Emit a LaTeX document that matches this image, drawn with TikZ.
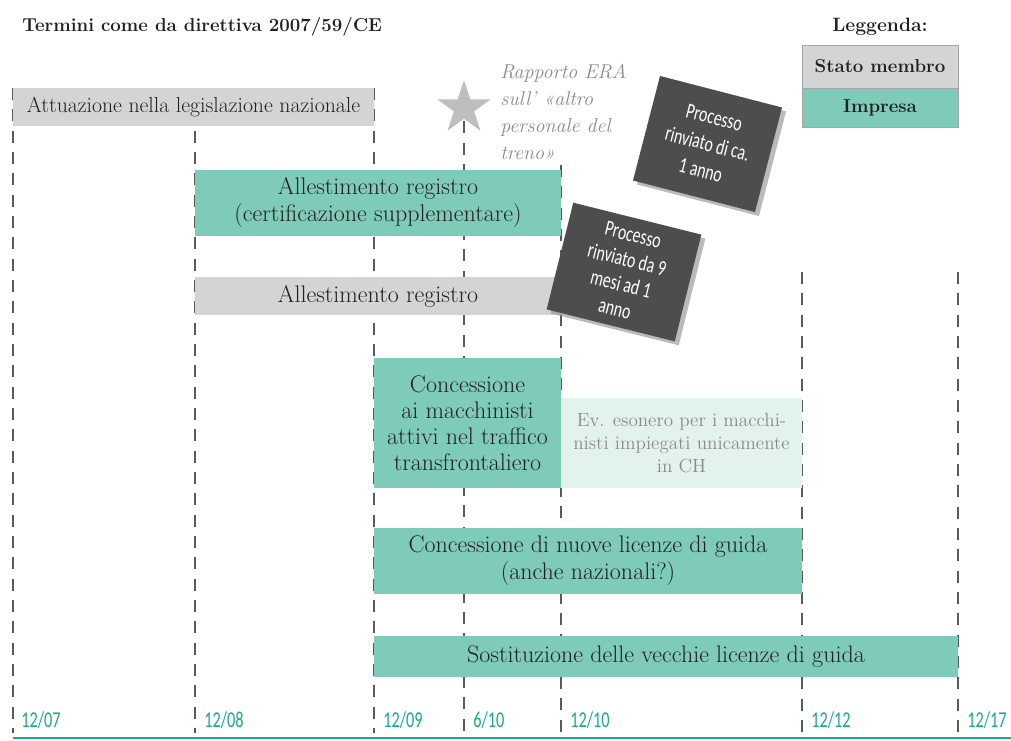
\documentclass[tikz,border=0pt]{standalone}
\usepackage{fontspec}
\newfontfamily\condfont[FakeStretch=0.72]{Carlito}
\usetikzlibrary{shapes.geometric,shadows}
\definecolor{tgreen}{HTML}{7ECBB9}
\definecolor{tgray}{HTML}{D3D4D6}
\definecolor{tlight}{HTML}{E2F2EC}
\definecolor{tdark}{HTML}{4D4D4F}
\definecolor{tlab}{HTML}{1AA98A}
\definecolor{tline}{HTML}{5A5A5A}
\definecolor{ttext}{HTML}{231F20}
\definecolor{tstar}{HTML}{BDBEC0}
\definecolor{tsoft}{HTML}{8A8A8C}
\begin{document}
\begin{tikzpicture}[x=0.75pt,y=-0.75pt,
  font=\fontsize{18}{20.25}\selectfont,
  bar/.style={inner sep=0pt, align=center, text=ttext},
  grn/.style={bar, fill=tgreen},
  gry/.style={bar, fill=tgray},
  tick/.style={draw=tline, line width=1pt, dash pattern=on 9pt off 7pt},
  darkbox/.style={fill=tdark, text=white, inner sep=0pt, align=center,
    drop shadow={shadow xshift=3pt, shadow yshift=-3pt, fill=black!45, opacity=0.6}},
  datelab/.style={anchor=west, text=tlab, inner sep=0pt, font=\condfont\fontsize{17}{18}\selectfont},
  legbox/.style={bar, draw=black!35, line width=0.6pt, font=\bfseries\fontsize{14}{16}\selectfont, minimum width=117pt}
]
\useasboundingbox (0,0) rectangle (1011,740);

% timeline dashed lines
\foreach \x/\y in {13/88, 195/88, 374/88, 464/100, 561/165, 802/272, 958/272}
  \draw[tick] (\x,\y) -- (\x,733);

% title and legend
\node[anchor=west, inner sep=0pt, font=\bfseries\fontsize{14}{16}\selectfont, text=ttext] (title) at (22,27) {Termini come da direttiva 2007/59/CE};
\node[inner sep=0pt, font=\bfseries\fontsize{14.5}{16}\selectfont, text=ttext] (leg) at (880,27) {Leggenda:};
\node[legbox, fill=tgray, minimum height=32.25pt] (stato) at (880,66.5) {Stato membro};
\node[legbox, fill=tgreen, minimum height=29.25pt] (impresa) at (880,107.5) {Impresa};

% bars
\node[gry, minimum width=270.75pt, minimum height=28.5pt, font=\fontsize{16.3}{19}\selectfont] (att) at (193.5,107) {Attuazione nella legislazione nazionale};
\node[grn, minimum width=274.5pt, minimum height=49.5pt] (reg1) at (378,203) {Allestimento registro\\(certificazione supplementare)};
\node[gry, minimum width=274.5pt, minimum height=28.5pt] (reg2) at (378,296) {Allestimento registro};
\node[grn, minimum width=140.25pt, minimum height=97.5pt, font=\fontsize{18}{19.5}\selectfont] (conc) at (467.5,423) {Concessione\\ai macchinisti\\attivi nel traffico\\transfrontaliero};
\node[bar, fill=tlight, text=tsoft, minimum width=180.75pt, minimum height=67.5pt, font=\fontsize{14.3}{17.25}\selectfont] (eson) at (681.5,443) {Ev. esonero per i macchi-\\nisti impiegati unicamente\\in CH};
\node[grn, minimum width=321pt, minimum height=49.5pt] (nuove) at (588,561) {Concessione di nuove licenze di guida\\(anche nazionali?)};
\node[grn, minimum width=438pt, minimum height=30.75pt] (sost) at (666,656.5) {Sostituzione delle vecchie licenze di guida};

% star and ERA note
\node[star, star points=5, star point ratio=2.618, fill=tstar, inner sep=0pt, minimum size=42pt] (star) at (464,108) {};
\node[anchor=north west, inner sep=0pt, align=left, text=tsoft, font=\itshape\fontsize{15}{20.25}\selectfont] (era) at (500,64) {Rapporto ERA\\sull' «altro\\personale del\\treno»};

% delay boxes
\node[darkbox, rotate=-14.5, minimum width=94.5pt, minimum height=81pt, font=\condfont\fontsize{16.5}{20.5}\selectfont] (del1) at (707.5,144) {Processo\\rinviato di ca.\\1 anno};
\node[darkbox, rotate=-14, minimum width=99pt, minimum height=82.5pt, font=\condfont\fontsize{16.5}{19}\selectfont] (del2) at (624,272) {Processo\\rinviato da 9\\mesi ad 1\\anno};

% date labels
\node[datelab] (d1) at (21,720) {12/07};
\node[datelab] (d2) at (204,720) {12/08};
\node[datelab] (d3) at (383,720) {12/09};
\node[datelab] (d4) at (473,720) {6/10};
\node[datelab] (d5) at (570,720) {12/10};
\node[datelab] (d6) at (811,720) {12/12};
\node[datelab] (d7) at (967,720) {12/17};

% base line
\draw[draw=tlab, line width=2.2pt] (13,738) -- (1011,738);
\end{tikzpicture}
\end{document}
